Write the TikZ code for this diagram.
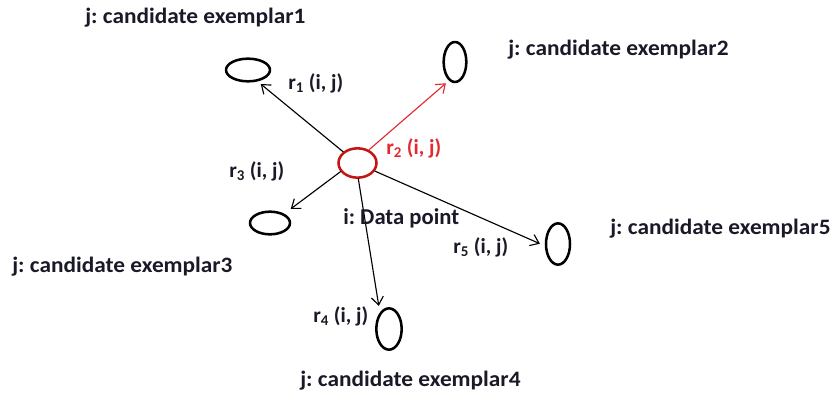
\documentclass[tikz,border=0pt]{standalone}
\usepackage{fontspec}
\setmainfont{Carlito}
\newfontfamily\candfont[FakeStretch=1.06]{Carlito}
\usetikzlibrary{shapes.geometric,arrows.meta}
\definecolor{txtdark}{RGB}{25,25,40}
\definecolor{dpred}{RGB}{196,20,20}
\definecolor{rred}{RGB}{228,40,50}
\frenchspacing
\tikzset{
  exemplar/.style={ellipse,draw,line width=1.9pt,inner sep=0pt},
  lbl/.style={font=\bfseries\fontsize{16}{19}\selectfont,text=txtdark,inner sep=0pt},
  cand/.style={font=\candfont\bfseries\fontsize{16.5}{19}\selectfont,text=txtdark,inner sep=0pt},
  link/.style={line width=0.85pt,-{Straight Barb[length=6pt,width=9pt]}},
}
\begin{document}
\begin{tikzpicture}[x=0.75pt,y=-0.75pt,line cap=round,line join=round]
  \useasboundingbox (0,0) rectangle (835,396);
  % data point and candidate exemplars
  \node[exemplar,draw=dpred,minimum width=28.5pt,minimum height=22pt] (dp) at (357.5,163) {};
  \node[exemplar,minimum width=33pt,minimum height=17pt] (e1) at (248,70) {};
  \node[exemplar,minimum width=17pt,minimum height=30pt] (e2) at (455,62) {};
  \node[exemplar,minimum width=30pt,minimum height=17pt] (e3) at (270,223) {};
  \node[exemplar,minimum width=19pt,minimum height=31pt] (e4) at (389,329) {};
  \node[exemplar,minimum width=18pt,minimum height=31pt] (e5) at (558,244) {};
  % responsibilities
  \draw[link,shorten >=3pt] (dp.142) -- (e1.-50);
  \draw[link,draw=rred,shorten >=3pt] (dp.49) -- (e2.-108);
  \draw[link,shorten >=6pt] (dp.-153) -- (e3.33);
  \draw[link,shorten >=5pt] (dp.-87) -- (e4.119);
  \draw[link,shorten >=4pt] (dp.-25) -- (e5.188);
  % labels
  \node[lbl,anchor=west] (l1) at (288,83) {r\textsubscript{1} (i, j)};
  \node[lbl,anchor=west,text=rred] (l2) at (386,148) {r\textsubscript{2} (i, j)};
  \node[lbl,anchor=west] (l3) at (229,171) {r\textsubscript{3} (i, j)};
  \node[lbl,anchor=west] (l4) at (313,316) {r\textsubscript{4} (i, j)};
  \node[lbl,anchor=west] (l5) at (453,247) {r\textsubscript{5} (i, j)};
  \node[lbl,anchor=west,font=\bfseries\fontsize{17}{20}\selectfont] (ip) at (343,218) {i: Data point};
  \node[cand,anchor=west] (c1) at (85,18) {j: candidate exemplar1};
  \node[cand,anchor=west] (c2) at (508,50) {j: candidate exemplar2};
  \node[cand,anchor=west] (c3) at (12,267) {j: candidate exemplar3};
  \node[cand,anchor=west] (c4) at (300,381) {j: candidate exemplar4};
  \node[cand,anchor=west] (c5) at (610,229) {j: candidate exemplar5};
\end{tikzpicture}
\end{document}
